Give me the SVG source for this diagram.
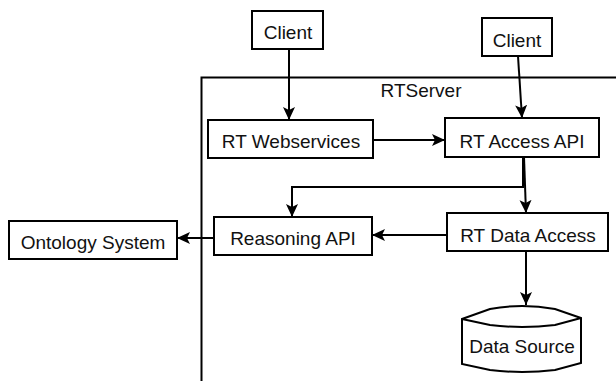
<svg xmlns="http://www.w3.org/2000/svg" width="616" height="381" viewBox="0 0 616 381">
<defs>
<style>
.box{fill:#fff;stroke:#000;stroke-width:2}
.lbl{font-family:"Liberation Sans",Arial,sans-serif;font-size:19px;fill:#111;text-anchor:middle}
.con{fill:none;stroke:#000;stroke-width:2}
</style>
<marker id="ah" markerUnits="userSpaceOnUse" markerWidth="14" markerHeight="14" viewBox="0 0 14 14" refX="13" refY="7" orient="auto">
<path d="M0,1 L13,7 L0,13 L3,7 z" fill="#000"/>
</marker>
</defs>
<rect width="616" height="381" fill="#fff"/>
<g id="rtserver">
<rect x="201.5" y="77.5" width="500" height="400" fill="none" stroke="#000" stroke-width="2"/>
<text class="lbl" x="421" y="97">RTServer</text>
</g>
<g id="connectors">
<path class="con" d="M289,49 L289,120" marker-end="url(#ah)"/>
<path class="con" d="M518,56 L522,118" marker-end="url(#ah)"/>
<path class="con" d="M373,140 L445,140" marker-end="url(#ah)"/>
<path class="con" d="M523,157 L523,187 L292,187 L292,217" marker-end="url(#ah)"/>
<path class="con" d="M524,157 L526,213" marker-end="url(#ah)"/>
<path class="con" d="M447,235 L372,235" marker-end="url(#ah)"/>
<path class="con" d="M214,238 L177,238" marker-end="url(#ah)"/>
<path class="con" d="M526,251 L526,305" marker-end="url(#ah)"/>
</g>
<g id="client1">
<rect class="box" x="252" y="11" width="71" height="38"/>
<text class="lbl" x="288" y="39">Client</text>
</g>
<g id="client2">
<rect class="box" x="482" y="18" width="70" height="38"/>
<text class="lbl" x="517" y="47">Client</text>
</g>
<g id="rtwebservices">
<rect class="box" x="208" y="120" width="165" height="38"/>
<text class="lbl" x="291" y="148">RT Webservices</text>
</g>
<g id="rtaccessapi">
<rect class="box" x="445" y="118" width="154" height="39"/>
<text class="lbl" x="522" y="147.5">RT Access API</text>
</g>
<g id="reasoningapi">
<rect class="box" x="214" y="217" width="158" height="38"/>
<text class="lbl" x="293" y="245">Reasoning API</text>
</g>
<g id="ontologysystem">
<rect class="box" x="9" y="221" width="168" height="38"/>
<text class="lbl" x="93" y="249">Ontology System</text>
</g>
<g id="rtdataaccess">
<rect class="box" x="447" y="213" width="161" height="38"/>
<text class="lbl" x="528" y="242">RT Data Access</text>
</g>
<g id="datasource">
<path class="box" d="M462,319 L490,309 Q522,303 555,309 L581,318 L581,363 L555,370 Q522,374 490,370 L462,364 Z"/>
<path class="con" d="M462,319 L490,325 Q522,329 555,325 L581,318"/>
<text class="lbl" x="522" y="353">Data Source</text>
</g>
</svg>
